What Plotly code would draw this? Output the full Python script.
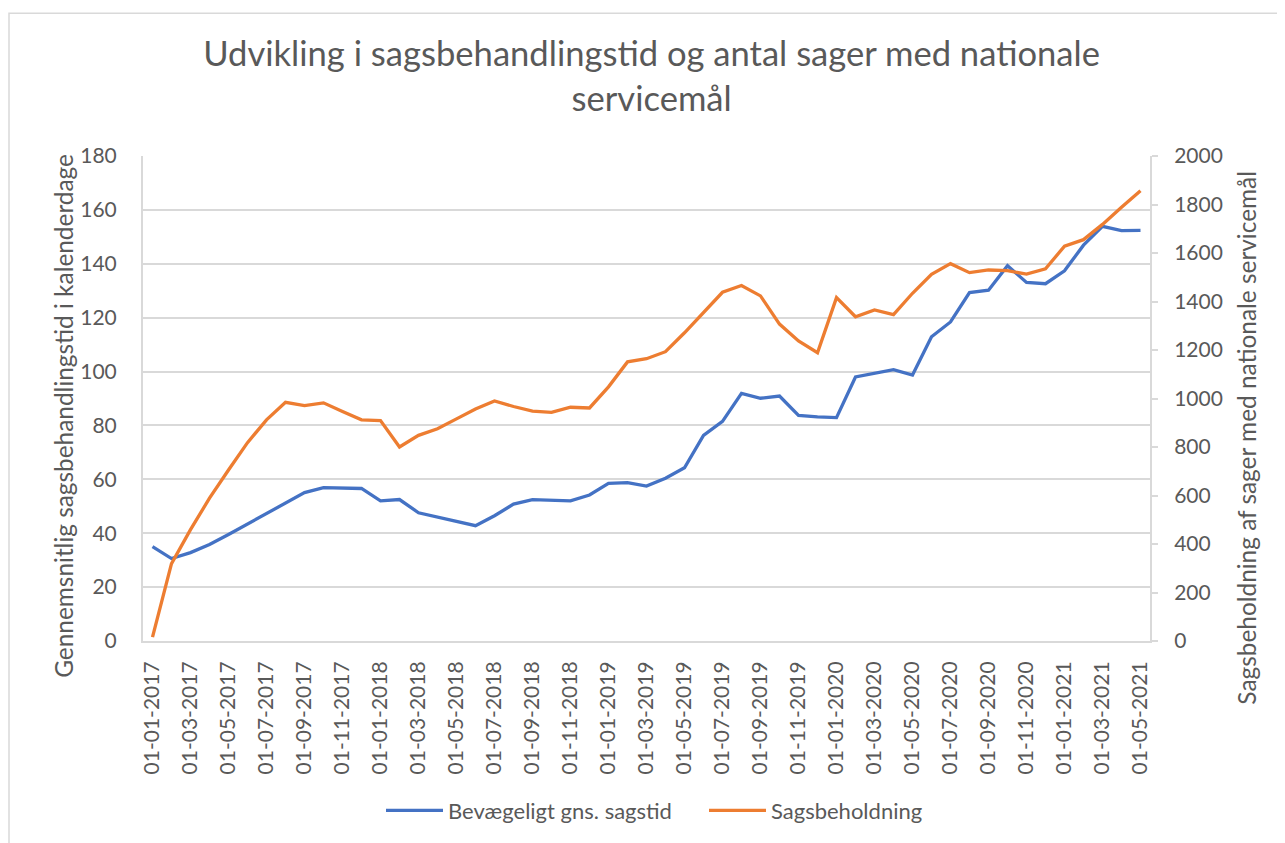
import plotly.graph_objects as go

months = ["01-%02d-%d" % (m, y) for y in range(2017, 2022) for m in range(1, 13)][:53]

sagstid = [35.0, 30.6, 32.8, 35.8, 39.5, 43.4, 47.5, 51.4, 55.1, 56.9,
           56.8, 56.6, 52.0, 52.5, 47.6, 46.0, 44.4, 42.8, 46.5, 50.8,
           52.5, 52.3, 52.0, 54.2, 58.5, 58.8, 57.5, 60.4, 64.3, 76.3,
           81.5, 91.9, 90.1, 90.9, 83.7, 83.2, 82.9, 98.0, 99.3, 100.7,
           98.7, 112.9, 118.4, 129.3, 130.2, 139.3, 133.1, 132.6, 137.4, 146.9,
           153.9, 152.3, 152.4]

beholdning = [16, 319, 459, 589, 705, 818, 912, 984, 971, 982,
              946, 912, 909, 800, 848, 875, 916, 957, 990, 967,
              948, 943, 964, 961, 1048, 1151, 1164, 1193, 1271, 1355,
              1438, 1466, 1423, 1307, 1237, 1189, 1416, 1337, 1365, 1346,
              1434, 1512, 1556, 1519, 1530, 1527, 1513, 1535, 1628, 1655,
              1718, 1789, 1857]

tick_labels = months[::2]

left_ticks = [0, 20, 40, 60, 80, 100, 120, 140, 160, 180]
right_ticks = [0, 200, 400, 600, 800, 1000, 1200, 1400, 1600, 1800, 2000]

TXT = "#595959"
GRID = "#D9D9D9"
FONT = "Lato"

W, H = 1277, 835
L, R, T, B = 135, 135, 148, 198
PW, PH = W - L - R, H - T - B

fig = go.Figure()
fig.add_trace(go.Scatter(x=months, y=sagstid, name="Bevægeligt gns. sagstid",
                         mode="lines", line=dict(color="#4472C4", width=3.3)))
fig.add_trace(go.Scatter(x=months, y=beholdning, name="Sagsbeholdning",
                         mode="lines", line=dict(color="#ED7D31", width=3.3),
                         yaxis="y2"))

fig.update_layout(
    width=W, height=H,
    margin=dict(l=L, r=R, t=T, b=B),
    paper_bgcolor="white", plot_bgcolor="white",
    font=dict(family=FONT, color=TXT, size=21),
    title=dict(text="Udvikling i sagsbehandlingstid og antal sager med nationale<br>servicemål",
               x=0.504, xanchor="center", y=0.93, yanchor="middle",
               font=dict(family=FONT, size=34.6, color=TXT)),
    xaxis=dict(type="category", categoryorder="array", categoryarray=months,
               range=[-0.5, 52.5], tickmode="array", tickvals=tick_labels,
               ticktext=tick_labels, tickangle=-90, showgrid=False,
               showline=True, linecolor=GRID, linewidth=2, ticks="",
               ticklabelstandoff=10, tickfont=dict(size=21, color=TXT)),
    yaxis=dict(range=[0, 180], tickvals=left_ticks, showgrid=True, gridcolor=GRID,
               gridwidth=1.5, showline=True, linecolor=GRID, linewidth=2,
               ticks="", zeroline=False, ticklabelstandoff=20,
               tickfont=dict(size=21, color=TXT)),
    yaxis2=dict(range=[0, 2000], tickvals=right_ticks, overlaying="y", side="right",
                showgrid=False, showline=True, linecolor=GRID, linewidth=2,
                ticks="outside", ticklen=6, tickcolor=GRID, tickwidth=2,
                zeroline=False, ticklabelstandoff=12,
                tickfont=dict(size=21, color=TXT)),
    legend=dict(orientation="h", x=(373 - L) / PW, xanchor="left",
                y=(T + PH - 808) / PH, yanchor="middle",
                font=dict(size=22, color=TXT), itemwidth=57,
                entrywidth=251, entrywidthmode="pixels", traceorder="normal",
                bgcolor="rgba(0,0,0,0)"),
    showlegend=True,
)

fig.add_annotation(text="Gennemsnitlig sagsbehandlingstid i kalenderdage",
                   xref="paper", yref="paper", x=(56 - L) / PW, y=(T + PH - 410) / PH,
                   textangle=-90, showarrow=False, xanchor="center", yanchor="middle",
                   font=dict(family=FONT, size=24.4, color=TXT))
fig.add_annotation(text="Sagsbeholdning af sager med nationale servicemål",
                   xref="paper", yref="paper", x=(1239 - L) / PW, y=(T + PH - 432) / PH,
                   textangle=-90, showarrow=False, xanchor="center", yanchor="middle",
                   font=dict(family=FONT, size=24.4, color=TXT))

# chart-area border (left and top edges visible in the reference)
fig.add_shape(type="rect", xref="paper", yref="paper",
              x0=(1 - L) / PW, x1=(W + 20 - L) / PW,
              y0=(T + PH - (H + 20)) / PH, y1=(T + PH - 4) / PH,
              line=dict(color="#D9D9D9", width=1.5), layer="below")

fig.write_html("out.html")
